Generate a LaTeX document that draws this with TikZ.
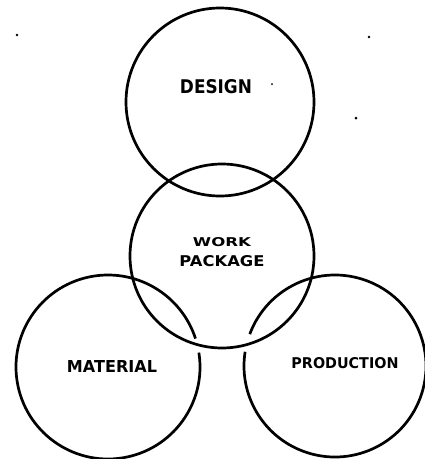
\documentclass[tikz,border=0pt]{standalone}
\usepackage{graphicx}
\usepackage{fontspec}
\setmainfont{DejaVu Sans}
\newcommand{\lbl}[3]{\resizebox{#1pt}{#2pt}{\bfseries #3}}
\begin{document}
\begin{tikzpicture}[x=1pt,y=-1pt,
  ring/.style={line width=2.7pt},
  word/.style={inner sep=0pt},
  speck/.style={fill=black}]
\useasboundingbox (0,0) rectangle (425,459);
% circles
\draw[ring] (220,102) circle[radius=94];
\draw[ring] (222,256) circle[radius=92];
\draw[ring] (108,367) ++(-9:92) arc[start angle=-9, end angle=342, radius=92];
\draw[ring] (335,366) ++(200.5:91) arc[start angle=200.5, end angle=549, radius=91];
% labels
\node[word] (design) at (216,87) {\lbl{72}{14}{DESIGN}};
\node[word] (work) at (222,242) {\lbl{58}{9}{WORK}};
\node[word] (package) at (222,261.5) {\lbl{85}{11}{PACKAGE}};
\node[word] (material) at (112,366) {\lbl{90}{12}{MATERIAL}};
\node[word] (production) at (345,363.5) {\lbl{107}{11}{PRODUCTION}};
% scan specks
\fill[speck] (17,35) circle[radius=1.3];
\fill[speck] (369,37) circle[radius=1.3];
\fill[speck] (356,118) circle[radius=1.5];
\fill[speck] (272,84) circle[radius=1];
\end{tikzpicture}
\end{document}
